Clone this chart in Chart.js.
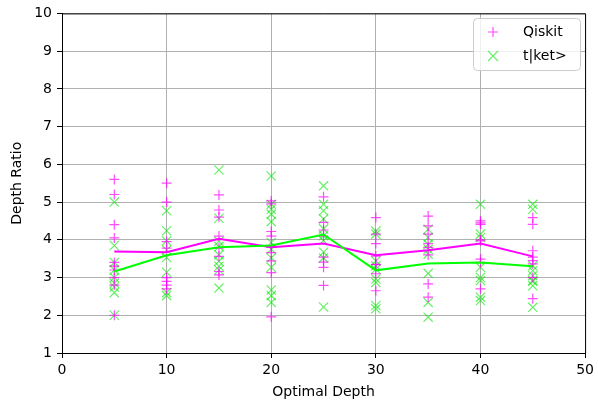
<!DOCTYPE html>
<html>
<head>
<meta charset="utf-8">
<script src="https://cdn.jsdelivr.net/npm/chart.js@4/dist/chart.umd.min.js"></script>
<style>
html,body{margin:0;padding:0;background:#fff;}
#wrap{width:598px;height:401px;}
</style>
</head>
<body>
<div id="wrap"><canvas id="c" width="598" height="401"></canvas></div>
<script>
// Optimal depth categories (x positions)
const depths = [5, 10, 15, 20, 25, 30, 35, 40, 45];

// Qiskit depth ratios per optimal depth
const qiskitRatios = [
  [5.6, 5.2, 4.4, 4.05, 3.4, 3.3, 3.2, 2.8, 2.0, 3.0],
  [5.5, 5.0, 3.95, 3.78, 3.0, 2.9, 2.8, 2.7],
  [5.19, 4.79, 4.6, 4.1, 3.78, 3.56, 3.16, 3.07],
  [5.03, 4.95, 4.22, 4.1, 3.8, 3.66, 3.44, 3.13, 1.96],
  [5.14, 4.46, 4.26, 4.1, 3.54, 3.41, 3.27, 2.79],
  [4.59, 4.15, 3.9, 3.57, 3.35, 3.34, 3.1, 2.65],
  [4.63, 4.37, 4.15, 3.9, 3.8, 3.6, 2.83, 2.48],
  [4.5, 4.45, 4.41, 4.0, 3.97, 3.49, 3.4, 2.7],
  [4.59, 4.41, 3.71, 3.54, 3.45, 3.36, 3.0, 2.44]
];

// t|ket> depth ratios per optimal depth
const tketRatios = [
  [5.0, 3.85, 3.4, 3.2, 3.0, 2.85, 2.75, 2.6, 2.0],
  [4.77, 4.24, 3.97, 3.73, 3.53, 3.14, 2.6, 2.52],
  [5.85, 4.57, 3.96, 3.82, 3.6, 3.43, 3.3, 3.2, 2.72],
  [5.69, 4.94, 4.81, 4.68, 4.48, 3.93, 3.75, 3.52, 3.27, 2.67, 2.52, 2.34],
  [5.43, 4.94, 4.77, 4.55, 4.29, 4.11, 3.98, 3.67, 3.52, 2.22],
  [4.23, 4.15, 3.44, 3.31, 3.22, 2.96, 2.87, 2.26, 2.17],
  [4.28, 4.06, 3.88, 3.75, 3.62, 3.11, 2.34, 1.95],
  [4.94, 4.15, 4.06, 3.27, 3.0, 2.92, 2.48, 2.39],
  [4.94, 4.81, 3.31, 3.18, 3.05, 2.92, 2.9, 2.78, 2.21]
];

// Average lines
const qiskitMean = [3.69, 3.67, 4.03, 3.8, 3.9, 3.59, 3.72, 3.9, 3.56];
const tketMean = [3.16, 3.59, 3.8, 3.85, 4.14, 3.19, 3.37, 3.4, 3.3];

// Axis tick settings
const xTicks = [0, 10, 20, 30, 40, 50];
const yTicks = [1, 2, 3, 4, 5, 6, 7, 8, 9, 10];

const seriesLabels = ['Qiskit', 't|ket>'];

function toPoints(groups) {
  const pts = [];
  groups.forEach((g, i) => g.forEach(v => pts.push({x: depths[i], y: v})));
  return pts;
}
function toLine(vals) { return vals.map((v, i) => ({x: depths[i], y: v})); }

const MAG = 'rgba(255,0,255,0.7)';
const GRN = 'rgba(0,230,0,0.6)';
const FONT = "'DejaVu Sans', sans-serif";

const framePlugin = {
  id: 'frame',
  afterDraw(chart) {
    const {ctx, chartArea: a} = chart;
    ctx.save();
    ctx.strokeStyle = '#000';
    ctx.lineWidth = 1;
    ctx.beginPath();
    ctx.moveTo(a.left, a.top + 0.5);
    ctx.lineTo(a.right + 0.5, a.top + 0.5);
    ctx.lineTo(a.right + 0.5, a.bottom);
    ctx.stroke();
    ctx.restore();
  }
};

const legendPlugin = {
  id: 'mplLegend',
  afterDraw(chart) {
    const {ctx} = chart;
    const x0 = 473.5, y0 = 18.5, w = 107, h = 52, r = 4;
    ctx.save();
    ctx.fillStyle = 'rgba(255,255,255,0.8)';
    ctx.strokeStyle = '#cccccc';
    ctx.lineWidth = 1;
    ctx.beginPath();
    ctx.moveTo(x0 + r, y0);
    ctx.lineTo(x0 + w - r, y0);
    ctx.quadraticCurveTo(x0 + w, y0, x0 + w, y0 + r);
    ctx.lineTo(x0 + w, y0 + h - r);
    ctx.quadraticCurveTo(x0 + w, y0 + h, x0 + w - r, y0 + h);
    ctx.lineTo(x0 + r, y0 + h);
    ctx.quadraticCurveTo(x0, y0 + h, x0, y0 + h - r);
    ctx.lineTo(x0, y0 + r);
    ctx.quadraticCurveTo(x0, y0, x0 + r, y0);
    ctx.closePath();
    ctx.fill();
    ctx.stroke();
    const ds = chart.data.datasets.filter(d => d.inLegend);
    ds.forEach((d, i) => {
      const cy = 32 + i * 24;
      const cx = 493;
      ctx.strokeStyle = d.borderColor;
      ctx.lineWidth = 1.2;
      ctx.beginPath();
      if (d.pointStyle === 'cross') {
        ctx.moveTo(cx - 5, cy); ctx.lineTo(cx + 5, cy);
        ctx.moveTo(cx, cy - 5); ctx.lineTo(cx, cy + 5);
      } else {
        ctx.moveTo(cx - 5, cy - 5); ctx.lineTo(cx + 5, cy + 5);
        ctx.moveTo(cx - 5, cy + 5); ctx.lineTo(cx + 5, cy - 5);
      }
      ctx.stroke();
      ctx.fillStyle = '#000';
      ctx.font = '14px ' + FONT;
      ctx.textBaseline = 'middle';
      ctx.textAlign = 'left';
      ctx.fillText(d.label, 523, cy);
    });
    ctx.restore();
  }
};

new Chart(document.getElementById('c'), {
  type: 'scatter',
  data: {
    datasets: [
      {label: seriesLabels[0], inLegend: true, data: toPoints(qiskitRatios), pointStyle: 'cross',
       pointRadius: 5, pointHoverRadius: 5, borderColor: MAG, backgroundColor: MAG, pointBorderWidth: 1.2, order: 2},
      {label: seriesLabels[1], inLegend: true, data: toPoints(tketRatios), pointStyle: 'crossRot',
       pointRadius: 6.5, pointHoverRadius: 6.5, borderColor: GRN, backgroundColor: GRN, pointBorderWidth: 1.2, order: 2},
      {label: seriesLabels[0] + ' mean', type: 'line', data: toLine(qiskitMean), borderColor: '#ff00ff',
       borderWidth: 2, pointRadius: 0, fill: false, tension: 0, order: 1},
      {label: seriesLabels[1] + ' mean', type: 'line', data: toLine(tketMean), borderColor: '#00ff00',
       borderWidth: 2, pointRadius: 0, fill: false, tension: 0, order: 0}
    ]
  },
  options: {
    responsive: false,
    animation: false,
    devicePixelRatio: 1,
    layout: {padding: {left: 0, right: 11, top: 12, bottom: 0}},
    plugins: {legend: {display: false}, tooltip: {enabled: false}},
    scales: {
      x: {
        type: 'linear', min: 0, max: 50,
        afterBuildTicks(s) { s.ticks = xTicks.map(v => ({value: v})); },
        afterFit(s) { s.height = 48; },
        grid: {color: '#b0b0b0', lineWidth: 1, tickColor: '#000', tickLength: 5, drawTicks: true},
        border: {color: '#000', width: 1},
        ticks: {color: '#000', font: {family: FONT, size: 14}, padding: 4, maxRotation: 0},
        title: {display: true, text: 'Optimal Depth', color: '#000', font: {family: FONT, size: 14}, padding: {top: 0, bottom: 0}}
      },
      y: {
        type: 'linear', min: 1, max: 10,
        afterBuildTicks(s) { s.ticks = yTicks.map(v => ({value: v})); },
        afterFit(s) { s.width = 62; },
        grid: {color: '#b0b0b0', lineWidth: 1, tickColor: '#000', tickLength: 5, drawTicks: true},
        border: {color: '#000', width: 1},
        ticks: {color: '#000', font: {family: FONT, size: 14}, padding: 5},
        title: {display: true, text: 'Depth Ratio', color: '#000', font: {family: FONT, size: 14}, padding: {top: 9, bottom: 0}}
      }
    }
  },
  plugins: [framePlugin, legendPlugin]
});
</script>
</body>
</html>
